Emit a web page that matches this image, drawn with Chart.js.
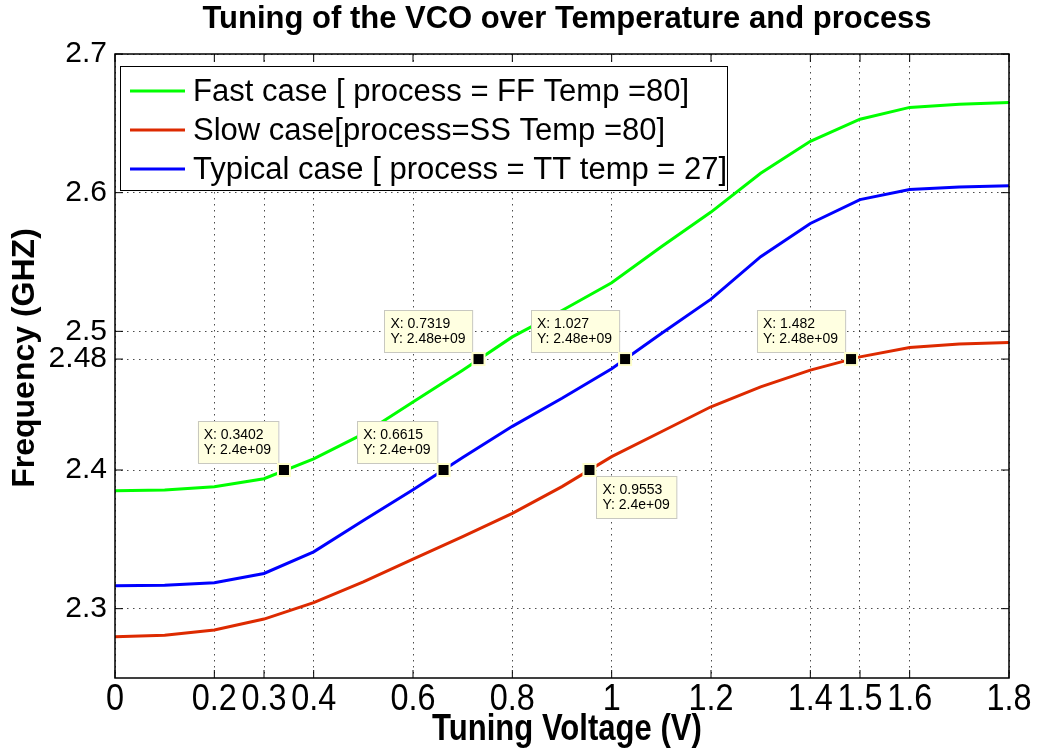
<!DOCTYPE html>
<html>
<head>
<meta charset="utf-8">
<script src="https://cdn.jsdelivr.net/npm/chart.js@4.4.1/dist/chart.umd.min.js"></script>
<style>
  body { margin: 0; background: #fff; }
  #caja { width: 1037px; height: 751px; }
</style>
</head>
<body>
<div id="caja"><canvas id="grafico-vco"></canvas></div>
<script>
// valores (V, GHz)
const voltaje = [0, 0.1, 0.2, 0.3, 0.4, 0.5, 0.6, 0.7, 0.8, 0.9, 1.0, 1.1, 1.2, 1.3, 1.4, 1.5, 1.6, 1.7, 1.8];
const casoRapido = [2.385, 2.3856, 2.388, 2.3937, 2.408, 2.426, 2.449, 2.472, 2.496, 2.515, 2.535, 2.561, 2.586, 2.614, 2.637, 2.653, 2.6615, 2.6637, 2.665];
const casoLento = [2.2798, 2.2808, 2.2846, 2.2925, 2.3043, 2.3194, 2.3357, 2.352, 2.3687, 2.388, 2.4096, 2.4276, 2.4456, 2.460, 2.472, 2.4816, 2.4884, 2.4908, 2.492];
const casoTipico = [2.3166, 2.3168, 2.3187, 2.3254, 2.341, 2.3636, 2.3858, 2.409, 2.4315, 2.4517, 2.473, 2.4985, 2.5232, 2.5538, 2.5778, 2.595, 2.6023, 2.604, 2.605];

const etiquetas = ['Fast case [ process = FF Temp =80]', 'Slow case[process=SS Temp =80]', 'Typical case [ process = TT temp = 27]'];
const colores = ['#00ff00', '#dd2a00', '#0000ff'];

const titulo = 'Tuning of the VCO over Temperature and process';
const tituloX = 'Tuning Voltage (V)';
const tituloY = 'Frequency (GHZ)';

const ticksX = [0, 0.2, 0.3, 0.4, 0.6, 0.8, 1, 1.2, 1.4, 1.5, 1.6, 1.8];
const ticksY = [2.3, 2.4, 2.48, 2.5, 2.6, 2.7];

// data tips (marcadores)
const tipX = [0.3402, 0.6615, 0.7319, 1.027, 0.9553, 1.482];
const tipY = [2.4, 2.4, 2.48, 2.48, 2.4, 2.48];
const tipTextoY = ['2.4e+09', '2.4e+09', '2.48e+09', '2.48e+09', '2.4e+09', '2.48e+09'];

const fuente = "'Liberation Sans', Arial, sans-serif";

function serie(valores) {
    return voltaje.map((v, i) => ({ x: v, y: valores[i] }));
}

// texto angosto (la fuente narrow no esta instalada, se comprime a mano)
function textoAngosto(ctx, texto, x, y, font, escala, rot) {
    ctx.save();
    ctx.font = font;
    ctx.translate(x, y);
    if (rot) ctx.rotate(rot);
    ctx.scale(escala, 1);
    ctx.textAlign = 'center';
    ctx.textBaseline = 'middle';
    ctx.fillStyle = '#000';
    ctx.fillText(texto, 0, 0);
    ctx.restore();
}

// marco negro, ticks hacia adentro y textos de los ejes
const marco = {
    id: 'marco',
    afterDatasetsDraw(chart) {
        const { ctx, chartArea: a, scales } = chart;
        ctx.save();
        ctx.strokeStyle = '#000';
        ctx.lineWidth = 1.5;
        ctx.strokeRect(a.left, a.top, a.right - a.left, a.bottom - a.top);
        ctx.lineWidth = 1;
        ctx.beginPath();
        ticksX.forEach(v => {
            const px = scales.x.getPixelForValue(v);
            ctx.moveTo(px, a.bottom); ctx.lineTo(px, a.bottom - 8);
            ctx.moveTo(px, a.top); ctx.lineTo(px, a.top + 8);
        });
        ticksY.forEach(v => {
            const py = scales.y.getPixelForValue(v);
            ctx.moveTo(a.left, py); ctx.lineTo(a.left + 8, py);
            ctx.moveTo(a.right, py); ctx.lineTo(a.right - 8, py);
        });
        ctx.stroke();
        ctx.restore();

        ticksX.forEach(v => {
            textoAngosto(ctx, String(v), scales.x.getPixelForValue(v), a.bottom + 22, '36px ' + fuente, 0.9);
        });
        const centro = (a.left + a.right) / 2;
        textoAngosto(ctx, tituloX, centro + 5, a.bottom + 52, 'bold 37px ' + fuente, 0.84);
        textoAngosto(ctx, tituloY, 25, 358, 'bold 32px ' + fuente, 1, -Math.PI / 2);
        textoAngosto(ctx, titulo, centro + 5, 19, 'bold 31px ' + fuente, 1);
    }
};

// leyenda dentro del area del grafico
const leyenda = {
    id: 'leyenda',
    afterDatasetsDraw(chart) {
        const { ctx, chartArea: a } = chart;
        const x0 = a.left + 5, y0 = a.top + 12;
        ctx.save();
        ctx.fillStyle = '#fff';
        ctx.fillRect(x0, y0, 607, 124);
        ctx.strokeStyle = '#000';
        ctx.lineWidth = 1;
        ctx.strokeRect(x0 + 0.5, y0 + 0.5, 607, 124);
        ctx.font = '31px ' + fuente;
        ctx.textBaseline = 'middle';
        etiquetas.forEach((t, i) => {
            const y = y0 + 25 + i * 39;
            ctx.strokeStyle = colores[i];
            ctx.lineWidth = 3;
            ctx.beginPath();
            ctx.moveTo(x0 + 10, y); ctx.lineTo(x0 + 65, y);
            ctx.stroke();
            ctx.fillStyle = '#000';
            ctx.fillText(t, x0 + 73, y + 1);
        });
        ctx.restore();
    }
};

const dataTips = {
    id: 'dataTips',
    afterDraw(chart) {
        const { ctx, scales } = chart;
        ctx.save();
        ctx.font = '14px ' + fuente;
        ctx.textBaseline = 'middle';
        tipX.forEach((tx, i) => {
            const px = scales.x.getPixelForValue(tx);
            const py = scales.y.getPixelForValue(tipY[i]);
            const l1 = 'X: ' + tx, l2 = 'Y: ' + tipTextoY[i];
            const w = Math.max(ctx.measureText(l1).width, ctx.measureText(l2).width) + 13;
            const h = 42;
            let bx, by;
            if (tx === 0.9553) { bx = px + 7; by = py + 6; }
            else { bx = px - 6 - w; by = py - 7 - h; }
            ctx.fillStyle = '#ffffe1';
            ctx.fillRect(bx, by, w, h);
            ctx.strokeStyle = '#c8c8c0';
            ctx.lineWidth = 1;
            ctx.strokeRect(Math.round(bx) + 0.5, Math.round(by) + 0.5, w, h);
            ctx.fillStyle = '#000';
            ctx.fillText(l1, bx + 6, by + 14);
            ctx.fillText(l2, bx + 6, by + 29);
            ctx.fillStyle = '#ffffcc';
            ctx.fillRect(px - 7, py - 7, 14, 14);
            ctx.fillStyle = '#000';
            ctx.fillRect(px - 5, py - 5, 10, 10);
        });
        ctx.restore();
    }
};

const ctx = document.getElementById('grafico-vco');
const graficoVco = new Chart(ctx, {
    type: 'line',
    data: {
        datasets: [
            { label: etiquetas[0], data: serie(casoRapido), borderColor: colores[0] },
            { label: etiquetas[1], data: serie(casoLento), borderColor: colores[1] },
            { label: etiquetas[2], data: serie(casoTipico), borderColor: colores[2] }
        ]
    },
    options: {
        responsive: true,
        maintainAspectRatio: false,
        animation: false,
        layout: { padding: { left: 0, right: 28, top: 54, bottom: 0 } },
        elements: {
            line: { borderWidth: 3, tension: 0, fill: false },
            point: { radius: 0, hoverRadius: 0 }
        },
        plugins: {
            legend: { display: false },
            tooltip: { enabled: false },
            title: { display: false }
        },
        scales: {
            x: {
                type: 'linear',
                min: 0,
                max: 1.8,
                afterBuildTicks: s => { s.ticks = ticksX.map(v => ({ value: v })); },
                afterFit: s => { s.height = 73; },
                ticks: { display: false },
                grid: { color: 'rgba(0,0,0,0.7)', lineWidth: 1, drawTicks: false },
                border: { display: false, dash: [1.5, 4.5] }
            },
            y: {
                type: 'linear',
                min: 2.25,
                max: 2.7,
                afterBuildTicks: s => { s.ticks = ticksY.map(v => ({ value: v })); },
                afterFit: s => { s.width = 115; },
                ticks: {
                    color: '#000',
                    padding: 8,
                    autoSkip: false,
                    font: { family: fuente, size: 30 },
                    callback: v => String(v)
                },
                grid: { color: 'rgba(0,0,0,0.7)', lineWidth: 1, drawTicks: false },
                border: { display: false, dash: [1.5, 4.5] }
            }
        }
    },
    plugins: [marco, leyenda, dataTips]
});
</script>
</body>
</html>
